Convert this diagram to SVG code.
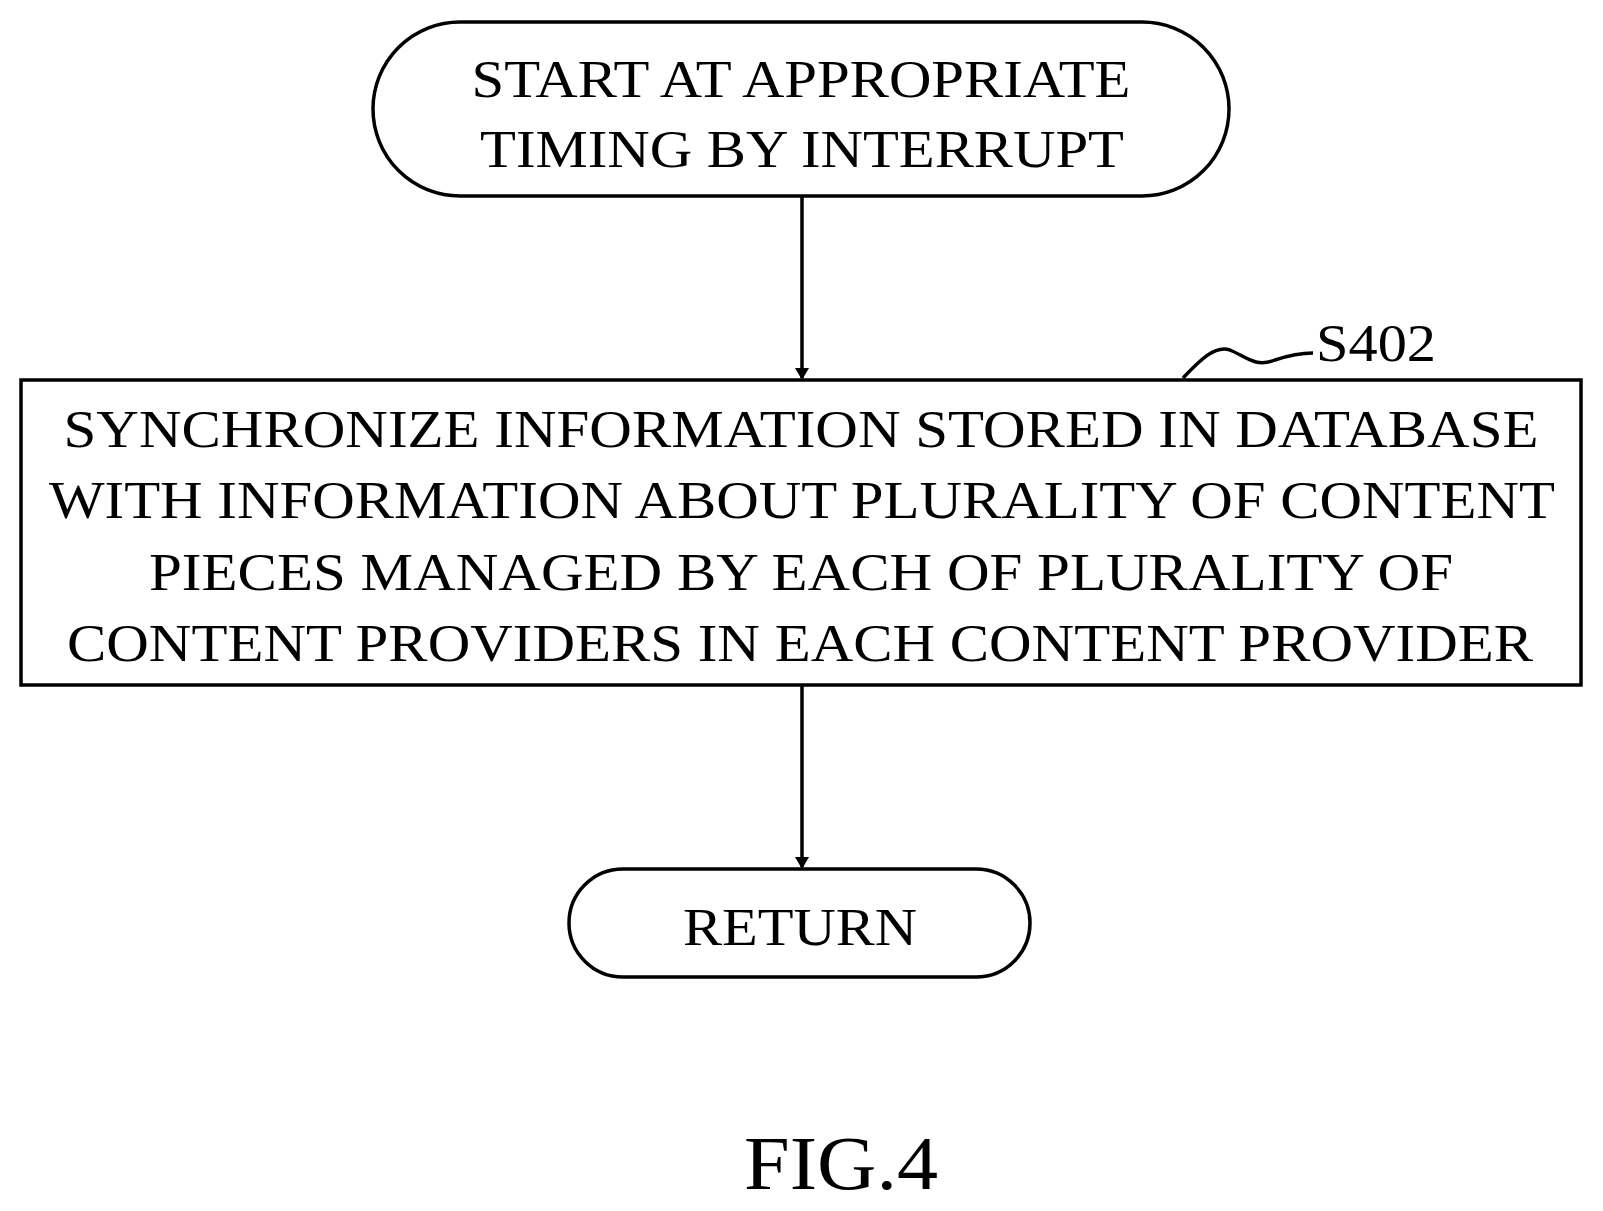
<svg xmlns="http://www.w3.org/2000/svg" width="1603" height="1211" viewBox="0 0 1603 1211">
<style>
.s{fill:#fff;stroke:#000;stroke-width:3.5}
.t{font-family:"Liberation Serif",serif;font-size:52px;fill:#000;text-anchor:middle}
.c{stroke:#000;stroke-width:3.5;fill:none}
</style>
<defs><marker id="a" markerWidth="12" markerHeight="14" refX="10" refY="7" orient="auto" markerUnits="userSpaceOnUse"><path d="M0,0 L12,7 L0,14 Z" fill="#000"/></marker></defs>
<rect width="1603" height="1211" fill="#fff"/>
<g id="connectors">
<line class="c" x1="802" y1="196" x2="802" y2="378" marker-end="url(#a)"/>
<line class="c" x1="802" y1="685" x2="802" y2="867" marker-end="url(#a)"/>
<path class="c" stroke-width="2" d="M1183,378 C1200,360 1215,345 1230,350 C1245,356 1255,368 1275,360 C1290,355 1300,353 1313,353"/>
</g>
<g id="start">
<rect class="s" x="373" y="22" width="856" height="174" rx="87"/>
<text class="t" x="801" y="97" textLength="659" lengthAdjust="spacingAndGlyphs">START AT APPROPRIATE</text>
<text class="t" x="802" y="167" textLength="644" lengthAdjust="spacingAndGlyphs">TIMING BY INTERRUPT</text>
</g>
<g id="s402">
<rect class="s" x="21" y="380" width="1560" height="305"/>
<text class="t" x="801" y="447" textLength="1475" lengthAdjust="spacingAndGlyphs">SYNCHRONIZE INFORMATION STORED IN DATABASE</text>
<text class="t" x="802" y="518" textLength="1506" lengthAdjust="spacingAndGlyphs">WITH INFORMATION ABOUT PLURALITY OF CONTENT</text>
<text class="t" x="801" y="590" textLength="1304" lengthAdjust="spacingAndGlyphs">PIECES MANAGED BY EACH OF PLURALITY OF</text>
<text class="t" x="800" y="661" textLength="1466" lengthAdjust="spacingAndGlyphs">CONTENT PROVIDERS IN EACH CONTENT PROVIDER</text>
<text class="t" x="1376" y="361" textLength="120" lengthAdjust="spacingAndGlyphs">S402</text>
</g>
<g id="return">
<rect class="s" x="569" y="869" width="461" height="108" rx="54"/>
<text class="t" x="800" y="945" textLength="234" lengthAdjust="spacingAndGlyphs">RETURN</text>
</g>
<g id="caption">
<text class="t" x="841" y="1189" style="font-size:76px" textLength="194" lengthAdjust="spacingAndGlyphs">FIG.4</text>
</g>
</svg>
